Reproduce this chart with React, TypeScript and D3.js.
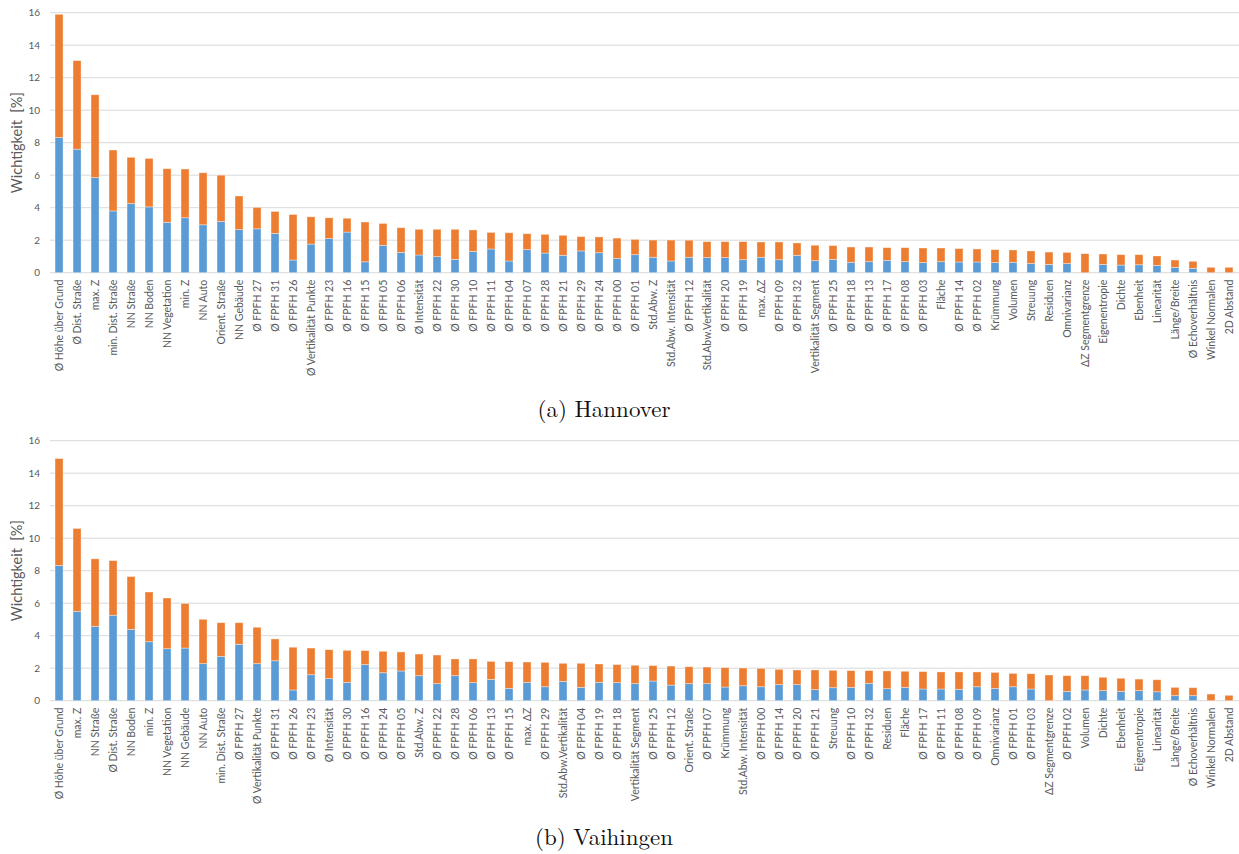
import * as d3 from 'd3';
import React, { useEffect, useRef } from 'react';

// Hannover
const catsA = [
  'Ø Höhe über Grund', 'Ø Dist. Straße', 'max. Z', 'min. Dist. Straße', 'NN Straße', 'NN Boden',
  'NN Vegetation', 'min. Z', 'NN Auto', 'Orient. Straße', 'NN Gebäude', 'Ø FPFH 27', 'Ø FPFH 31',
  'Ø FPFH 26', 'Ø Vertikalität Punkte', 'Ø FPFH 23', 'Ø FPFH 16', 'Ø FPFH 15', 'Ø FPFH 05', 'Ø FPFH 06',
  'Ø Intensität', 'Ø FPFH 22', 'Ø FPFH 30', 'Ø FPFH 10', 'Ø FPFH 11', 'Ø FPFH 04', 'Ø FPFH 07',
  'Ø FPFH 28', 'Ø FPFH 21', 'Ø FPFH 29', 'Ø FPFH 24', 'Ø FPFH 00', 'Ø FPFH 01', 'Std.Abw. Z',
  'Std.Abw. Intensität', 'Ø FPFH 12', 'Std.Abw.Vertikalität', 'Ø FPFH 20', 'Ø FPFH 19', 'max. ΔZ',
  'Ø FPFH 09', 'Ø FPFH 32', 'Vertikalität Segment', 'Ø FPFH 25', 'Ø FPFH 18', 'Ø FPFH 13', 'Ø FPFH 17',
  'Ø FPFH 08', 'Ø FPFH 03', 'Fläche', 'Ø FPFH 14', 'Ø FPFH 02', 'Krümmung', 'Volumen', 'Streuung',
  'Residuen', 'Omnivarianz', 'ΔZ Segmentgrenze', 'Eigenentropie', 'Dichte', 'Ebenheit', 'Linearität',
  'Länge/Breite', 'Ø Echoverhältnis', 'Winkel Normalen', '2D Abstand',
];
const blueA = [
  8.32, 7.6, 5.85, 3.8, 4.25, 4.05, 3.1, 3.38, 2.95, 3.15, 2.65, 2.7, 2.42,
  0.78, 1.76, 2.1, 2.5, 0.67, 1.68, 1.25, 1.09, 0.99, 0.82, 1.31, 1.46, 0.72, 1.42,
  1.21, 1.07, 1.34, 1.23, 0.88, 1.11, 0.95, 0.72, 0.95, 0.93, 0.93, 0.8, 0.95,
  0.8, 1.07, 0.74, 0.82, 0.64, 0.68, 0.76, 0.68, 0.62, 0.68, 0.66, 0.66, 0.62, 0.64, 0.56,
  0.51, 0.56, 0, 0.51, 0.47, 0.49, 0.45, 0.33, 0.27, 0, 0,
];
const totalA = [
  15.9, 13.05, 10.95, 7.55, 7.1, 7.03, 6.4, 6.38, 6.15, 6.0, 4.72, 4.02, 3.77,
  3.58, 3.44, 3.38, 3.35, 3.12, 3.03, 2.77, 2.67, 2.67, 2.67, 2.63, 2.48, 2.46, 2.4,
  2.36, 2.3, 2.22, 2.2, 2.13, 2.05, 2.01, 2.01, 2.0, 1.91, 1.91, 1.91, 1.89,
  1.89, 1.83, 1.69, 1.67, 1.58, 1.58, 1.54, 1.54, 1.52, 1.52, 1.48, 1.46, 1.42, 1.4, 1.34,
  1.27, 1.25, 1.17, 1.15, 1.11, 1.11, 1.03, 0.78, 0.7, 0.33, 0.33,
];

// Vaihingen
const catsB = [
  'Ø Höhe über Grund', 'max. Z', 'NN Straße', 'Ø Dist. Straße', 'NN Boden', 'min. Z', 'NN Vegetation',
  'NN Gebäude', 'NN Auto', 'min. Dist. Straße', 'Ø FPFH 27', 'Ø Vertikalität Punkte', 'Ø FPFH 31',
  'Ø FPFH 26', 'Ø FPFH 23', 'Ø Intensität', 'Ø FPFH 30', 'Ø FPFH 16', 'Ø FPFH 24', 'Ø FPFH 05',
  'Std.Abw. Z', 'Ø FPFH 22', 'Ø FPFH 28', 'Ø FPFH 06', 'Ø FPFH 13', 'Ø FPFH 15', 'max. ΔZ',
  'Ø FPFH 29', 'Std.Abw.Vertikalität', 'Ø FPFH 04', 'Ø FPFH 19', 'Ø FPFH 18', 'Vertikalität Segment',
  'Ø FPFH 25', 'Ø FPFH 12', 'Orient. Straße', 'Ø FPFH 07', 'Krümmung', 'Std.Abw. Intensität',
  'Ø FPFH 00', 'Ø FPFH 14', 'Ø FPFH 20', 'Ø FPFH 21', 'Streuung', 'Ø FPFH 10', 'Ø FPFH 32',
  'Residuen', 'Fläche', 'Ø FPFH 17', 'Ø FPFH 11', 'Ø FPFH 08', 'Ø FPFH 09', 'Omnivarianz',
  'Ø FPFH 01', 'Ø FPFH 03', 'ΔZ Segmentgrenze', 'Ø FPFH 02', 'Volumen', 'Dichte', 'Ebenheit',
  'Eigenentropie', 'Linearität', 'Länge/Breite', 'Ø Echoverhältnis', 'Winkel Normalen', '2D Abstand',
];
const blueB = [
  8.32, 5.5, 4.58, 5.26, 4.39, 3.63, 3.2, 3.24, 2.28, 2.73, 3.47, 2.28, 2.46,
  0.66, 1.6, 1.36, 1.13, 2.22, 1.72, 1.83, 1.54, 1.05, 1.54, 1.11, 1.31, 0.76, 1.13,
  0.86, 1.19, 0.82, 1.13, 1.11, 1.05, 1.21, 0.96, 1.05, 1.05, 0.84, 0.92,
  0.86, 0.99, 0.99, 0.68, 0.8, 0.82, 1.07, 0.74, 0.82, 0.72, 0.72, 0.7, 0.86, 0.76,
  0.86, 0.72, 0, 0.57, 0.66, 0.62, 0.57, 0.62, 0.55, 0.31, 0.31, 0, 0,
];
const totalB = [
  14.9, 10.6, 8.73, 8.62, 7.64, 6.69, 6.32, 5.98, 5.01, 4.8, 4.8, 4.52, 3.8,
  3.29, 3.24, 3.14, 3.1, 3.08, 3.04, 3.0, 2.87, 2.81, 2.57, 2.57, 2.42, 2.4, 2.38,
  2.36, 2.3, 2.3, 2.26, 2.22, 2.18, 2.16, 2.13, 2.09, 2.07, 2.03, 2.01,
  1.99, 1.93, 1.89, 1.89, 1.87, 1.85, 1.85, 1.83, 1.81, 1.79, 1.77, 1.77, 1.77, 1.74,
  1.68, 1.66, 1.58, 1.54, 1.54, 1.44, 1.38, 1.33, 1.29, 0.82, 0.8, 0.41, 0.33,
];

const yTicks = [0, 2, 4, 6, 8, 10, 12, 14, 16];
const captions = ['(a) Hannover', '(b) Vaihingen'];

const BLUE = '#5b9bd5';
const ORANGE = '#ed7d31';
const GREY = '#595959';
const GRID = '#d9d9d9';
const FONT = 'Lato, "Liberation Sans", sans-serif';

function drawPanel(g, cats, blue, total, caption) {
  const x = d3.scaleBand()
    .domain(cats)
    .range([50, 1238])
    .paddingInner(0.555)
    .paddingOuter(0.28);

  const y = d3.scaleLinear()
    .domain([0, 16])
    .range([272.7, 12.7]);

  // gridlines
  g.append('g')
    .selectAll('line')
    .data(yTicks)
    .join('line')
    .attr('x1', 50)
    .attr('x2', 1239)
    .attr('y1', (d) => y(d))
    .attr('y2', (d) => y(d))
    .attr('stroke', GRID)
    .attr('stroke-width', 1);

  // y tick labels
  g.append('g')
    .selectAll('text')
    .data(yTicks)
    .join('text')
    .attr('x', 40)
    .attr('y', (d) => y(d))
    .attr('dy', '0.35em')
    .attr('text-anchor', 'end')
    .attr('font-family', FONT)
    .attr('font-size', 10)
    .attr('fill', GREY)
    .text((d) => d);

  // axis title
  g.append('text')
    .attr('transform', `translate(22,${y(8)}) rotate(-90)`)
    .attr('text-anchor', 'middle')
    .attr('font-family', FONT)
    .attr('font-size', 14.5)
    .attr('fill', GREY)
    .attr('xml:space', 'preserve')
    .text('Wichtigkeit  [%]');

  const rows = cats.map((c, i) => ({ c, b: blue[i], t: total[i] }));

  // blue part
  g.append('g')
    .selectAll('rect')
    .data(rows.filter((d) => d.b > 0))
    .join('rect')
    .attr('x', (d) => x(d.c))
    .attr('width', x.bandwidth())
    .attr('y', (d) => y(d.b))
    .attr('height', (d) => y(0) - y(d.b))
    .attr('fill', BLUE)
    .attr('stroke', '#ffffff')
    .attr('stroke-opacity', 0.45)
    .attr('stroke-width', 0.8);

  // orange part stacked on top
  g.append('g')
    .selectAll('rect')
    .data(rows)
    .join('rect')
    .attr('x', (d) => x(d.c))
    .attr('width', x.bandwidth())
    .attr('y', (d) => y(d.t))
    .attr('height', (d) => y(d.b) - y(d.t))
    .attr('fill', ORANGE)
    .attr('stroke', '#ffffff')
    .attr('stroke-opacity', 0.45)
    .attr('stroke-width', 0.8);

  // category labels
  g.append('g')
    .selectAll('text')
    .data(cats)
    .join('text')
    .attr('transform', (d) => `translate(${x(d) + x.bandwidth() / 2},${y(0) + 7}) rotate(-90)`)
    .attr('dy', '0.35em')
    .attr('text-anchor', 'end')
    .attr('font-family', FONT)
    .attr('font-size', 10.5)
    .attr('fill', GREY)
    .text((d) => d);

  // caption below
  g.append('text')
    .attr('x', 604)
    .attr('y', 417)
    .attr('text-anchor', 'middle')
    .attr('font-family', '"Latin Modern Roman", "Liberation Serif", serif')
    .attr('font-size', 23)
    .attr('fill', '#111')
    .text(caption);
}

function App() {
  const ref = useRef(null);

  useEffect(() => {
    const svg = d3.select(ref.current);
    svg.selectAll('*').remove();

    svg.append('rect').attr('width', 1239).attr('height', 854).attr('fill', '#fff');

    drawPanel(svg.append('g'), catsA, blueA, totalA, captions[0]);
    drawPanel(svg.append('g').attr('transform', 'translate(0,428)'), catsB, blueB, totalB, captions[1]);
  }, []);

  return (
    <svg
      ref={ref}
      width={1239}
      height={854}
      style={{ position: 'absolute', left: 0, top: 0 }}
    />
  );
}

export default App;
